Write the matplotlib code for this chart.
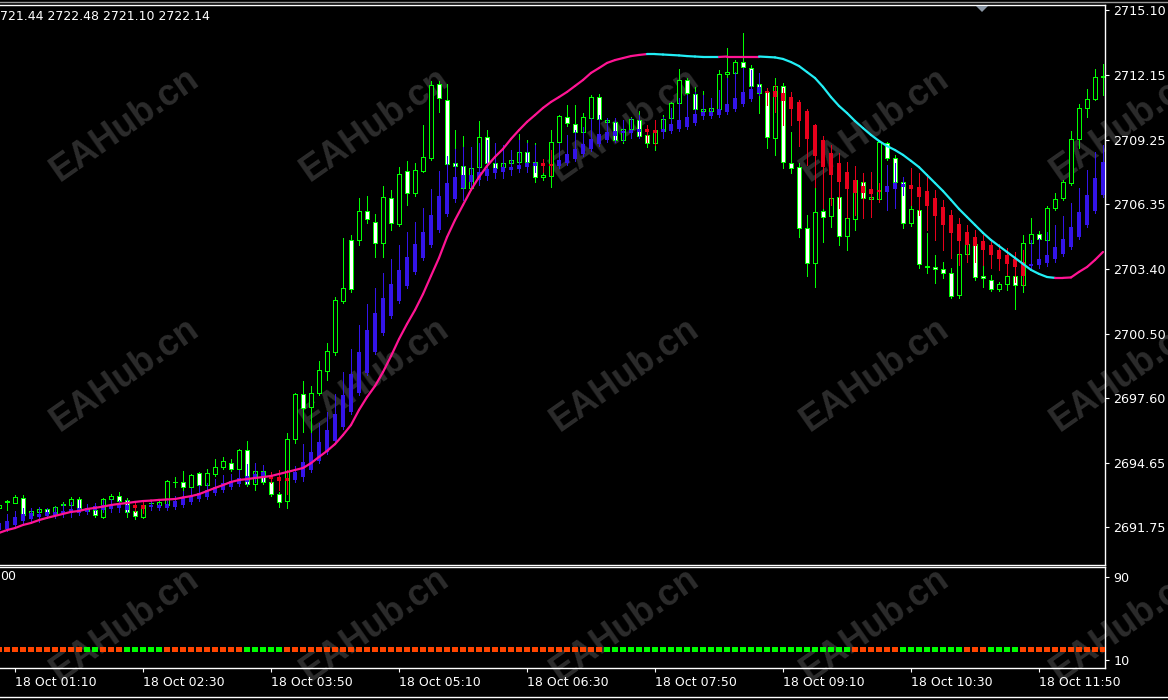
import matplotlib
matplotlib.use("Agg")
import matplotlib.pyplot as plt
from matplotlib.patches import Rectangle, Polygon
from matplotlib.collections import LineCollection
from matplotlib.lines import Line2D

# ---------------- data (M5 bars, 18 Oct 01:00 .. 12:30) ----------------
open_ = [2692.63, 2692.90, 2692.85, 2693.07, 2692.31, 2692.45, 2692.58, 2692.40, 2692.74, 2692.76,
         2693.03, 2692.49, 2692.54, 2692.22, 2693.03, 2693.16, 2692.99, 2692.49, 2692.22, 2692.83,
         2692.76, 2692.76, 2693.80, 2693.80, 2693.57, 2694.20, 2693.66, 2694.16, 2694.47, 2694.65,
         2694.38, 2695.24, 2693.71, 2694.29, 2693.80, 2693.25, 2692.94, 2695.74, 2697.77, 2697.18,
         2697.82, 2698.81, 2699.67, 2701.97, 2704.72, 2704.72, 2706.03, 2705.53, 2704.58, 2706.62,
         2705.44, 2707.83, 2706.84, 2707.83, 2708.42, 2711.76, 2711.04, 2708.20, 2708.06, 2707.07,
         2708.01, 2709.37, 2708.20, 2708.01, 2708.20, 2708.24, 2708.69, 2708.24, 2707.56, 2707.61,
         2709.14, 2710.27, 2709.96, 2709.59, 2710.23, 2711.17, 2710.05, 2710.05, 2709.23, 2709.73,
         2710.14, 2709.46, 2709.10, 2709.64, 2710.23, 2710.90, 2711.94, 2711.31, 2710.56, 2710.54,
         2710.63, 2712.21, 2712.26, 2712.75, 2712.48, 2711.76, 2711.40, 2709.32, 2711.67, 2708.20,
         2708.01, 2705.26, 2703.68, 2706.03, 2705.80, 2706.66, 2704.90, 2705.67, 2707.34, 2706.57,
         2706.57, 2709.10, 2708.42, 2707.34, 2705.49, 2706.07, 2703.50, 2703.50, 2703.41, 2703.23,
         2702.24, 2704.09, 2704.54, 2703.09, 2702.92, 2702.51, 2702.73, 2703.09, 2702.69, 2704.58,
         2704.99, 2704.72, 2706.16, 2706.62, 2707.29, 2709.28, 2710.68, 2711.08, 2712.08]
high_ = [2692.85, 2692.99, 2693.21, 2693.21, 2692.63, 2692.67, 2692.63, 2692.72, 2692.90, 2693.12,
         2693.12, 2692.72, 2692.58, 2693.07, 2693.25, 2693.34, 2693.07, 2692.58, 2692.81, 2692.99,
         2692.94, 2693.89, 2694.02, 2694.29, 2694.16, 2694.25, 2694.38, 2694.83, 2694.92, 2694.83,
         2695.29, 2695.65, 2694.34, 2694.38, 2693.89, 2693.34, 2696.01, 2697.82, 2698.36, 2698.13,
         2699.26, 2700.07, 2702.15, 2704.81, 2704.95, 2706.62, 2706.71, 2705.89, 2707.16, 2706.98,
         2708.01, 2708.29, 2708.20, 2709.91, 2711.90, 2711.90, 2711.76, 2709.68, 2709.41, 2708.92,
         2710.09, 2709.68, 2709.10, 2708.33, 2708.51, 2709.50, 2709.23, 2709.10, 2707.88, 2709.68,
         2710.36, 2710.81, 2710.81, 2710.45, 2711.26, 2711.31, 2710.23, 2710.23, 2709.87, 2710.27,
         2710.54, 2709.91, 2710.14, 2710.36, 2710.95, 2712.44, 2712.03, 2711.63, 2711.44, 2711.04,
         2712.39, 2713.38, 2712.84, 2714.06, 2712.62, 2711.94, 2711.58, 2712.03, 2711.81, 2709.59,
         2708.20, 2705.85, 2707.07, 2706.62, 2707.07, 2706.89, 2706.39, 2708.06, 2707.43, 2706.75,
         2709.23, 2709.14, 2708.56, 2707.56, 2706.84, 2706.30, 2705.04, 2704.04, 2703.73, 2703.46,
         2704.27, 2704.81, 2704.95, 2703.55, 2703.14, 2702.82, 2703.32, 2703.82, 2704.95, 2705.71,
         2705.13, 2706.25, 2706.84, 2707.43, 2709.64, 2710.86, 2711.53, 2712.44, 2712.66]
low_ = [2692.54, 2692.54, 2692.83, 2692.27, 2692.27, 2692.40, 2692.36, 2692.36, 2692.72, 2692.72,
        2692.54, 2692.45, 2692.22, 2692.18, 2692.99, 2692.76, 2692.22, 2692.13, 2692.18, 2692.67,
        2692.72, 2692.72, 2693.57, 2693.43, 2693.48, 2693.57, 2693.43, 2694.07, 2694.38, 2694.29,
        2694.20, 2693.62, 2693.43, 2693.71, 2693.16, 2692.67, 2692.63, 2695.56, 2696.06, 2696.01,
        2697.72, 2698.40, 2699.53, 2701.88, 2702.37, 2704.49, 2705.49, 2703.95, 2703.95, 2705.17,
        2705.35, 2706.30, 2706.71, 2707.79, 2708.33, 2710.50, 2708.06, 2706.44, 2706.53, 2706.98,
        2707.88, 2708.11, 2707.79, 2707.88, 2707.88, 2708.11, 2707.88, 2707.34, 2707.43, 2707.11,
        2709.01, 2709.87, 2709.46, 2709.46, 2710.14, 2710.05, 2709.91, 2709.14, 2709.10, 2709.64,
        2709.32, 2708.92, 2708.78, 2709.46, 2710.05, 2710.77, 2711.04, 2710.50, 2710.45, 2710.41,
        2710.50, 2711.17, 2711.85, 2712.17, 2711.49, 2710.45, 2708.87, 2708.56, 2707.97, 2707.74,
        2704.86, 2703.10, 2702.60, 2704.63, 2705.31, 2704.49, 2704.27, 2705.17, 2706.30, 2706.48,
        2706.44, 2708.33, 2707.20, 2705.26, 2705.35, 2703.46, 2703.23, 2702.78, 2703.00, 2702.10,
        2702.10, 2703.91, 2702.92, 2702.60, 2702.42, 2702.42, 2702.46, 2701.61, 2702.37, 2704.36,
        2704.27, 2704.63, 2706.07, 2706.53, 2707.20, 2708.87, 2710.27, 2711.04, 2711.26]
close_ = [2692.76, 2692.92, 2693.12, 2692.31, 2692.49, 2692.58, 2692.40, 2692.67, 2692.81, 2693.03,
          2692.58, 2692.63, 2692.31, 2693.03, 2693.16, 2692.94, 2692.45, 2692.27, 2692.76, 2692.85,
          2692.90, 2693.84, 2693.82, 2693.57, 2694.11, 2693.66, 2694.20, 2694.47, 2694.74, 2694.38,
          2695.24, 2693.71, 2694.29, 2693.80, 2693.25, 2692.90, 2695.74, 2697.77, 2697.14, 2697.82,
          2698.85, 2699.71, 2702.01, 2702.55, 2702.51, 2706.03, 2705.67, 2704.58, 2706.66, 2705.49,
          2707.70, 2706.84, 2707.88, 2708.47, 2711.72, 2711.13, 2708.15, 2708.06, 2707.07, 2707.97,
          2709.37, 2708.20, 2707.97, 2708.20, 2708.33, 2708.69, 2708.24, 2707.56, 2707.65, 2709.14,
          2710.32, 2710.00, 2709.59, 2710.27, 2711.17, 2710.18, 2710.14, 2709.23, 2709.73, 2710.18,
          2709.41, 2709.10, 2709.68, 2710.18, 2710.90, 2711.94, 2711.35, 2710.63, 2710.61, 2710.68,
          2712.21, 2712.30, 2712.75, 2712.53, 2711.67, 2711.35, 2709.37, 2711.67, 2708.24, 2707.97,
          2705.26, 2703.68, 2705.98, 2705.76, 2706.62, 2704.90, 2705.71, 2707.43, 2706.62, 2706.66,
          2709.14, 2708.42, 2707.34, 2705.49, 2706.12, 2703.64, 2703.55, 2703.41, 2703.23, 2702.19,
          2704.09, 2704.54, 2703.05, 2703.00, 2702.51, 2702.73, 2703.09, 2702.69, 2704.58, 2704.99,
          2704.76, 2706.16, 2706.57, 2707.34, 2709.28, 2710.68, 2711.08, 2712.08, 2712.12]

# smoothed-candle indicator (blue = rising, red = falling)
ind_open = [2691.63, 2691.68, 2691.86, 2692.04, 2692.13, 2692.22, 2692.27, 2692.31, 2692.40, 2692.40,
            2692.40, 2692.45, 2692.54, 2692.54, 2692.58, 2692.63, 2692.54, 2692.76, 2692.76, 2692.67,
            2692.63, 2692.63, 2692.67, 2692.76, 2692.90, 2693.03, 2693.12, 2693.30, 2693.44, 2693.57,
            2693.71, 2693.80, 2693.93, 2693.98, 2694.07, 2694.02, 2693.98, 2693.89, 2694.02, 2694.34,
            2694.74, 2695.15, 2695.65, 2696.28, 2696.96, 2697.81, 2698.72, 2699.67, 2700.52, 2701.29,
            2701.97, 2702.64, 2703.28, 2703.91, 2704.49, 2705.17, 2705.89, 2706.57, 2707.07, 2707.34,
            2707.43, 2707.61, 2707.74, 2707.79, 2707.88, 2707.92, 2708.01, 2708.06, 2708.20, 2708.15,
            2708.06, 2708.20, 2708.38, 2708.60, 2708.83, 2709.05, 2709.23, 2709.41, 2709.55, 2709.55,
            2709.59, 2709.73, 2709.68, 2709.59, 2709.64, 2709.73, 2709.82, 2710.00, 2710.32, 2710.32,
            2710.36, 2710.50, 2710.63, 2710.86, 2711.08, 2711.35, 2711.44, 2711.44, 2711.35, 2711.17,
            2710.95, 2710.54, 2709.91, 2709.23, 2708.65, 2708.20, 2707.79, 2707.43, 2707.16, 2707.02,
            2706.98, 2706.89, 2707.02, 2707.11, 2707.20, 2707.11, 2706.93, 2706.62, 2706.21, 2705.85,
            2705.44, 2705.08, 2704.86, 2704.67, 2704.49, 2704.27, 2704.04, 2703.86, 2703.73, 2703.55,
            2703.59, 2703.68, 2703.86, 2704.09, 2704.40, 2704.86, 2705.40, 2706.03, 2706.75]
ind_high = [2692.31, 2692.36, 2692.49, 2692.63, 2692.63, 2692.67, 2692.63, 2692.67, 2692.81, 2692.90,
            2692.99, 2692.81, 2692.85, 2692.99, 2693.03, 2692.99, 2692.99, 2692.85, 2692.90, 2692.90,
            2692.85, 2692.94, 2693.16, 2693.39, 2693.53, 2693.66, 2693.75, 2693.93, 2694.11, 2694.16,
            2694.34, 2694.61, 2694.65, 2694.56, 2694.25, 2694.34, 2694.34, 2694.52, 2695.51, 2696.01,
            2696.46, 2696.96, 2697.77, 2698.76, 2699.80, 2700.88, 2701.83, 2702.55, 2703.23, 2703.86,
            2704.49, 2705.08, 2705.53, 2706.16, 2707.02, 2707.83, 2708.51, 2708.83, 2708.92, 2708.92,
            2709.10, 2709.23, 2709.10, 2709.01, 2708.78, 2709.23, 2709.10, 2709.01, 2708.38, 2708.78,
            2709.10, 2709.46, 2709.68, 2709.82, 2710.23, 2710.36, 2710.23, 2710.23, 2710.14, 2710.23,
            2710.36, 2709.91, 2710.14, 2710.27, 2710.68, 2711.13, 2711.26, 2711.40, 2711.26, 2711.13,
            2711.49, 2712.03, 2712.30, 2712.48, 2712.39, 2712.26, 2711.58, 2711.71, 2711.58, 2711.40,
            2711.04, 2710.63, 2709.96, 2709.41, 2709.01, 2708.65, 2708.24, 2708.06, 2707.74, 2707.79,
            2707.29, 2708.10, 2708.20, 2707.56, 2707.97, 2707.74, 2707.65, 2706.98, 2706.53, 2706.07,
            2705.71, 2705.40, 2705.17, 2704.95, 2704.72, 2704.54, 2704.36, 2704.18, 2704.27, 2704.72,
            2704.81, 2705.08, 2705.40, 2705.80, 2706.39, 2707.07, 2707.88, 2708.69, 2709.01]
ind_low = [2691.54, 2691.59, 2691.77, 2691.95, 2691.95, 2692.00, 2692.18, 2692.18, 2692.22, 2692.22,
           2692.31, 2692.36, 2692.40, 2692.45, 2692.45, 2692.45, 2692.45, 2692.45, 2692.40, 2692.54,
           2692.54, 2692.54, 2692.58, 2692.67, 2692.81, 2692.94, 2693.03, 2693.21, 2693.34, 2693.48,
           2693.62, 2693.71, 2693.80, 2693.84, 2693.75, 2693.44, 2693.25, 2693.80, 2693.84, 2694.25,
           2694.65, 2695.06, 2695.56, 2696.19, 2696.87, 2697.72, 2698.63, 2699.58, 2700.43, 2701.20,
           2701.88, 2702.55, 2703.19, 2703.82, 2704.40, 2705.08, 2705.80, 2706.44, 2706.53, 2706.98,
           2707.20, 2707.43, 2707.52, 2707.52, 2707.65, 2707.79, 2707.79, 2707.79, 2707.79, 2707.65,
           2707.97, 2708.11, 2708.29, 2708.51, 2708.74, 2708.96, 2709.14, 2709.14, 2709.19, 2709.32,
           2709.32, 2709.14, 2709.01, 2709.32, 2709.55, 2709.64, 2709.73, 2709.91, 2710.18, 2710.23,
           2710.27, 2710.41, 2710.54, 2710.77, 2710.99, 2711.26, 2710.81, 2710.50, 2709.91, 2709.91,
           2708.96, 2708.11, 2707.11, 2706.16, 2706.30, 2706.16, 2705.71, 2705.85, 2705.71, 2705.76,
           2706.44, 2706.07, 2706.16, 2706.75, 2706.30, 2705.85, 2705.17, 2704.72, 2704.27, 2703.91,
           2703.59, 2703.73, 2703.73, 2703.59, 2703.46, 2703.37, 2703.14, 2702.82, 2702.69, 2703.37,
           2703.46, 2703.55, 2703.73, 2704.00, 2704.31, 2704.77, 2705.31, 2705.94, 2706.66]
ind_close = [2691.95, 2692.04, 2692.22, 2692.36, 2692.40, 2692.36, 2692.45, 2692.45, 2692.49, 2692.58,
             2692.63, 2692.63, 2692.72, 2692.76, 2692.76, 2692.81, 2692.76, 2692.63, 2692.58, 2692.76,
             2692.76, 2692.81, 2692.94, 2693.07, 2693.16, 2693.30, 2693.44, 2693.57, 2693.75, 2693.84,
             2693.98, 2694.07, 2694.16, 2694.25, 2693.93, 2693.84, 2693.84, 2694.25, 2694.70, 2695.15,
             2695.60, 2696.15, 2696.87, 2697.72, 2698.67, 2699.67, 2700.66, 2701.43, 2702.10, 2702.73,
             2703.37, 2703.95, 2704.54, 2705.08, 2705.85, 2706.71, 2707.29, 2707.56, 2707.65, 2707.65,
             2707.79, 2707.92, 2707.97, 2708.01, 2708.01, 2708.11, 2708.20, 2708.20, 2708.06, 2708.06,
             2708.33, 2708.60, 2708.83, 2709.05, 2709.28, 2709.50, 2709.59, 2709.64, 2709.64, 2709.68,
             2709.73, 2709.59, 2709.55, 2709.73, 2709.96, 2710.14, 2710.27, 2710.41, 2710.50, 2710.50,
             2710.63, 2710.86, 2711.13, 2711.40, 2711.53, 2711.62, 2711.35, 2711.17, 2710.99, 2710.63,
             2710.09, 2709.28, 2708.51, 2708.01, 2707.65, 2707.34, 2707.02, 2706.84, 2706.84, 2706.80,
             2706.89, 2707.16, 2707.29, 2707.25, 2707.02, 2706.66, 2706.25, 2705.80, 2705.40, 2705.04,
             2704.68, 2704.49, 2704.45, 2704.27, 2704.04, 2703.86, 2703.64, 2703.50, 2703.09, 2703.64,
             2703.86, 2704.04, 2704.40, 2704.76, 2705.31, 2705.98, 2706.75, 2707.52, 2708.24]

# moving average line and its trend state (1 = rising/pink, 0 = falling/cyan)
ma_line = [2691.50, 2691.63, 2691.72, 2691.86, 2691.95, 2692.08, 2692.18, 2692.27, 2692.36, 2692.45,
           2692.49, 2692.58, 2692.63, 2692.69, 2692.76, 2692.81, 2692.85, 2692.90, 2692.94, 2692.96,
           2692.99, 2693.01, 2693.03, 2693.10, 2693.16, 2693.25, 2693.39, 2693.53, 2693.66, 2693.80,
           2693.89, 2693.93, 2693.98, 2694.02, 2694.07, 2694.16, 2694.25, 2694.34, 2694.43, 2694.65,
           2694.93, 2695.20, 2695.51, 2695.92, 2696.37, 2697.05, 2697.63, 2698.13, 2698.76, 2699.48,
           2700.25, 2700.93, 2701.56, 2702.28, 2703.10, 2703.91, 2704.85, 2705.62, 2706.30, 2706.98,
           2707.56, 2708.06, 2708.47, 2708.83, 2709.28, 2709.68, 2710.05, 2710.36, 2710.68, 2710.95,
           2711.17, 2711.40, 2711.67, 2711.94, 2712.26, 2712.48, 2712.71, 2712.84, 2712.93, 2713.02,
           2713.07, 2713.11, 2713.11, 2713.09, 2713.07, 2713.05, 2713.02, 2713.00, 2712.98, 2712.98,
           2712.98, 2713.00, 2713.00, 2713.00, 2713.00, 2713.00, 2712.98, 2712.96, 2712.89, 2712.75,
           2712.57, 2712.30, 2712.03, 2711.63, 2711.17, 2710.77, 2710.45, 2710.09, 2709.77, 2709.46,
           2709.19, 2708.96, 2708.78, 2708.56, 2708.29, 2708.01, 2707.65, 2707.29, 2706.93, 2706.53,
           2706.12, 2705.76, 2705.40, 2705.04, 2704.72, 2704.45, 2704.18, 2703.91, 2703.64, 2703.37,
           2703.19, 2703.05, 2703.01, 2703.01, 2703.03, 2703.28, 2703.50, 2703.82, 2704.18]
ma_up = [1, 1, 1, 1, 1, 1, 1, 1, 1, 1,  1, 1, 1, 1, 1, 1, 1, 1, 1, 1,
         1, 1, 1, 1, 1, 1, 1, 1, 1, 1,  1, 1, 1, 1, 1, 1, 1, 1, 1, 1,
         1, 1, 1, 1, 1, 1, 1, 1, 1, 1,  1, 1, 1, 1, 1, 1, 1, 1, 1, 1,
         1, 1, 1, 1, 1, 1, 1, 1, 1, 1,  1, 1, 1, 1, 1, 1, 1, 1, 1, 1,
         1, 1, 0, 0, 0, 0, 0, 0, 0, 0,  0, 1, 1, 1, 1, 1, 0, 0, 0, 0,
         0, 0, 0, 0, 0, 0, 0, 0, 0, 0,  0, 0, 0, 0, 0, 0, 0, 0, 0, 0,
         0, 0, 0, 0, 0, 0, 0, 0, 0, 0,  0, 0, 0, 1, 1, 1, 1, 1, 1]

# lower window: signal state per bar (1 = green, 0 = orange-red)
signal = [0, 0, 0, 0, 0, 0, 0, 0, 0, 0,  0, 1, 1, 0, 0, 0, 1, 1, 1, 1,
          1, 0, 0, 0, 0, 0, 0, 0, 0, 0,  0, 1, 1, 1, 1, 1, 0, 0, 0, 0,
          0, 0, 0, 0, 0, 0, 0, 0, 0, 0,  0, 0, 0, 0, 0, 0, 0, 0, 0, 0,
          0, 0, 0, 0, 0, 0, 0, 0, 0, 0,  0, 0, 0, 0, 0, 0, 1, 1, 1, 1,
          1, 1, 1, 1, 1, 1, 1, 1, 1, 1,  1, 1, 1, 1, 1, 1, 1, 1, 1, 1,
          1, 1, 1, 1, 1, 1, 1, 0, 0, 0,  0, 0, 0, 1, 1, 1, 1, 1, 1, 1,
          1, 0, 0, 0, 1, 1, 1, 1, 0, 0,  0, 0, 0, 0, 0, 0, 0, 0, 0]
SIGNAL_LEVEL = 20

price_ticks = [2691.75, 2694.65, 2697.60, 2700.50, 2703.40, 2706.35, 2709.25, 2712.15, 2715.10]
time_tick_bars = [2, 18, 34, 50, 66, 82, 98, 114, 130]
time_tick_labels = ["18 Oct 01:10", "18 Oct 02:30", "18 Oct 03:50", "18 Oct 05:10", "18 Oct 06:30",
                    "18 Oct 07:50", "18 Oct 09:10", "18 Oct 10:30", "18 Oct 11:50"]
header_text = "721.44 2722.48 2721.10 2722.14"

# ---------------- style ----------------
GREEN = '#00FF00'
BLUE = '#3414E8'
RED = '#E8001C'
PINK = '#FF1493'
CYAN = '#22EEF5'
ORANGE = '#FF4500'
WM = '#2C2C2C'
FONT = 'DejaVu Sans'
LW = 0.72  # one pixel

n = min(len(open_), len(high_), len(low_), len(close_), len(ind_open), len(ind_high),
        len(ind_low), len(ind_close), len(ma_line), len(ma_up), len(signal))
xs = list(range(n))

W, H = 1168, 700
fig = plt.figure(figsize=(W / 100, H / 100), dpi=100, facecolor='black')

# watermark grid
for cy in (125, 375, 625):
    for cx in (125, 375, 625, 875, 1125):
        fig.text(cx / W, 1 - cy / H, "EAHub.cn", rotation=35, ha='center', va='center',
                 fontsize=26, fontweight='bold', family='Liberation Sans', color=WM, zorder=-5)

ax = fig.add_axes([0, 135 / H, 1105 / W, 560 / H])
ax2 = fig.add_axes([0, 32 / H, 1105 / W, 101 / H])
for a in (ax, ax2):
    a.set_facecolor('none')
    for s in ('top', 'right', 'bottom'):
        a.spines[s].set_color('white')
        a.spines[s].set_linewidth(1.0)
    a.spines['left'].set_visible(False)
    a.set_xlim(0.125, 138.25)

# main candles
wicks = [[(i, low_[i]), (i, high_[i])] for i in xs]
ax.add_collection(LineCollection(wicks, colors=GREEN, linewidths=LW, antialiaseds=False, zorder=2))
for i in xs:
    o, c = open_[i], close_[i]
    face = 'white' if c < o else 'black'
    ax.add_patch(Rectangle((i - 0.25, min(o, c)), 0.5, abs(c - o), facecolor=face,
                           edgecolor=GREEN, linewidth=LW, antialiased=False, zorder=3))

# smoothed indicator candles
ind_cols = [BLUE if ind_close[i] >= ind_open[i] else RED for i in xs]
iw = [[(i, ind_low[i]), (i, ind_high[i])] for i in xs]
ax.add_collection(LineCollection(iw, colors=ind_cols, linewidths=LW, antialiaseds=False, zorder=4))
bottoms = [min(ind_open[i], ind_close[i]) for i in xs]
heights = [max(abs(ind_close[i] - ind_open[i]), 0.05) for i in xs]
ax.bar(xs, heights, bottom=bottoms, width=0.5, color=ind_cols, linewidth=0, zorder=5)

# moving average
segs = [[(i - 1, ma_line[i - 1]), (i, ma_line[i])] for i in range(1, n)]
seg_cols = [PINK if ma_up[i] else CYAN for i in range(1, n)]
ax.add_collection(LineCollection(segs, colors=seg_cols, linewidths=1.6, capstyle='round', zorder=6))

ax.set_ylim(2690.053, 2715.325)
ax.yaxis.tick_right()
ax.set_yticks(price_ticks)
ax.set_yticklabels([f"{v:.2f}" for v in price_ticks], family=FONT)
ax.tick_params(axis='y', colors='white', labelcolor='white', length=3, width=0.8,
               direction='out', pad=3, labelsize=9.2)
ax.set_xticks([])

# lower window
sig_cols = [GREEN if s else ORANGE for s in signal[:n]]
ax2.scatter(xs, [SIGNAL_LEVEL] * n, marker='s', s=15, c=sig_cols, linewidths=0, zorder=3)
ax2.set_ylim(2.3, 99.6)
ax2.yaxis.tick_right()
ax2.set_yticks([10, 90])
ax2.set_yticklabels(['10', '90'], family=FONT)
ax2.tick_params(axis='y', colors='white', labelcolor='white', length=3, width=0.8,
                direction='out', pad=3, labelsize=9.2)
ax2.set_xticks(time_tick_bars)
ax2.set_xticklabels(time_tick_labels, family=FONT, ha='left')
ax2.tick_params(axis='x', colors='white', labelcolor='white', length=3, width=0.8,
                direction='out', pad=2.5, labelsize=9.0)

# header texts
fig.text(0, 1 - 16 / H, header_text, color='white', fontsize=9, family=FONT, ha='left', va='center')
fig.text(0, 1 - 577 / H, "00", color='white', fontsize=9, family=FONT, ha='left', va='center')

# frame lines and shift marker
fig.add_artist(Line2D([0, 1], [1 - 1.5 / H, 1 - 1.5 / H], color='#9a9a9a', lw=1))
fig.add_artist(Line2D([0, 1], [1 - 697 / H, 1 - 697 / H], color='white', lw=1))
tri = [[976 / W, 1 - 6 / H], [988 / W, 1 - 6 / H], [982 / W, 1 - 12 / H]]
fig.add_artist(Polygon(tri, closed=True, transform=fig.transFigure, facecolor='#8a96a4',
                       edgecolor='none'))

fig.savefig('out.png', dpi=100, facecolor='black')
